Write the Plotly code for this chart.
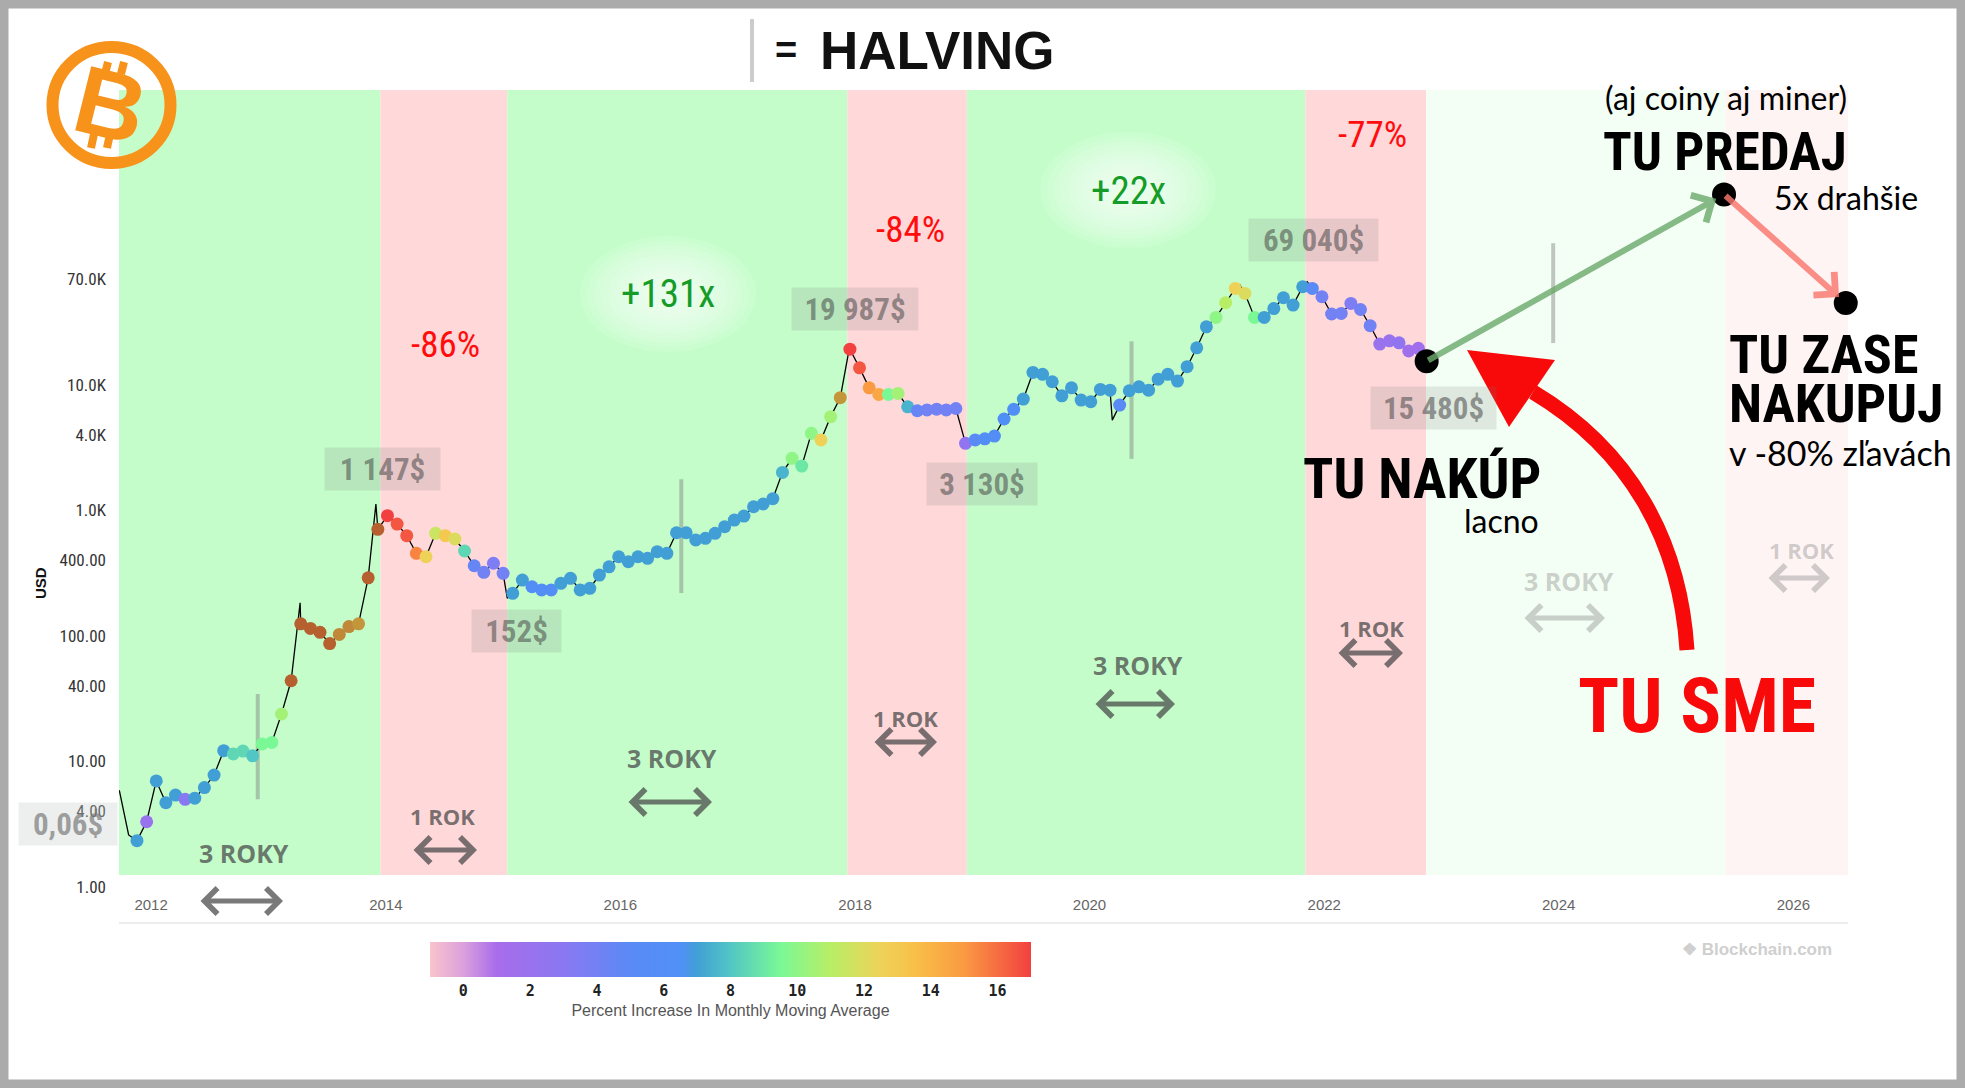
import pandas as pd
import plotly.graph_objects as go

# monthly-ish samples (every 30 days)
sample_start = "2011-11-18"
price = [
    2.34, 3.31, 7.0, 4.7, 5.4, 5.0, 5.1, 6.2, 7.8, 12.2,
    11.5, 12.1, 11.1, 13.8, 14.2, 23.9, 44, 125, 115, 107,
    87, 103, 119, 125, 291, 708, 910, 780, 630, 456,
    428, 658, 630, 593, 476, 363, 322, 380, 316, 219,
    279, 247, 233, 233, 263, 288, 233, 240, 306, 356,
    428, 391, 428, 416, 470, 456, 665, 665, 582, 600,
    658, 743, 839, 903, 1072, 1127, 1242, 2013, 2606, 2260,
    4120, 3650, 5600, 7925, 19300, 13700, 9500, 8420, 8420, 8570,
    6700, 6240, 6330, 6420, 6330, 6500, 3430, 3650, 3730, 3920,
    5360, 6400, 7730, 12600, 12160, 10620, 8200, 9500, 7590, 7360,
    9230, 9100, 6920, 9000, 9680, 9100, 11140, 12160, 10760, 14000,
    19800, 29100, 34600, 45300, 58900, 53700, 34600, 34600, 40700, 49600,
    43400, 60700, 58900, 50500, 36800, 37200, 44700, 40000, 29700, 21200,
    22500, 21700, 18700, 19600,
]
pct_increase = [
    7, 2, 7, 7, 7, 3, 7, 7, 7, 7,
    8.5, 8.5, 8, 9.5, 9.5, 10.5, 20, 20, 20, 20,
    20, 18.5, 18.5, 18, 20, 20, 17, 16.5, 16.5, 15.5,
    12.5, 11.5, 13, 12, 8.5, 4.5, 4, 3.5, 4, 7,
    7, 6, 6, 6, 7, 7, 7, 7, 7, 7,
    7, 7, 7, 7, 7, 7, 7, 7, 7, 7,
    7, 7, 7, 7, 7, 7, 7, 7.5, 10, 9,
    10, 12.5, 10.5, 18, 17, 16.5, 15, 14.5, 9.5, 10.5,
    7.5, 4.5, 4, 4, 4, 4, 2.5, 5, 6, 6,
    6.5, 6.5, 7, 7, 7, 7, 7, 7, 7, 7,
    7, 7, 5, 7, 7, 7, 7, 7, 7, 7,
    7, 7, 10, 11, 12.5, 12, 9.5, 7, 7, 7,
    7, 7, 5, 4, 4, 4, 3.5, 4, 4, 2,
    2, 2.5, 1.5, 1.5,
]

# extra daily extremes visible on the thin price line
spike_dates = ["2011-09-24", "2011-10-23", "2013-04-09", "2013-12-01", "2015-01-14",
               "2017-12-16", "2018-12-14", "2020-03-12", "2021-04-13", "2021-11-09"]
spike_price = [5.9, 2.6, 184, 1127, 200, 20800, 3310, 5250, 63000, 66500]

halving_dates = ["2012-11-28", "2016-07-09", "2020-05-11", "2023-12-15"]
halving_low = [5.0, 220, 2580, 21600]
halving_high = [34.5, 1775, 22300, 135000]

cycle_edges = ["2011-09-23", "2013-12-15", "2015-01-14", "2017-12-08", "2018-12-15",
               "2021-11-03", "2022-11-14", "2025-06-03", "2026-06-20"]
cycle_colors = ["#c4fdca", "#ffd8da", "#c4fdca", "#ffd8da", "#c4fdca", "#ffd8da",
                "#f3fff4", "#fff4f4"]

plan_dates = ["2022-11-16", "2025-05-30", "2026-06-13"]
plan_price = [15480, 330000, 45000]

ytick_vals = [1, 4, 10, 40, 100, 400, 1000, 4000, 10000, 70000]
ytick_text = ["1.00", "4.00", "10.00", "40.00", "100.00", "400.00", "1.0K", "4.0K", "10.0K", "70.0K"]

W, H = 1965, 1088
L, R, T, B = 119, 117, 90, 201
NARROW = "Liberation Sans Narrow, Roboto Condensed, DejaVu Sans Condensed, Arial Narrow, sans-serif"
ROUND = "Lato, Noto Sans, sans-serif"
ORANGE = "#f7931a"


def px(x):
    return (x - L) / (W - L - R)


def py(y):
    return (H - B - y) / (H - T - B)


dates = pd.date_range(sample_start, periods=len(price), freq="30D")
samples = pd.DataFrame({"date": dates, "price": price, "pct": pct_increase})
line = pd.concat([samples[["date", "price"]],
                  pd.DataFrame({"date": pd.to_datetime(spike_dates), "price": spike_price})])
line = line.sort_values("date")
in_scale = samples[samples.pct <= 17]
hot = samples[samples.pct > 17]

fig = go.Figure()

for d, lo, hi in zip(halving_dates, halving_low, halving_high):
    fig.add_trace(go.Scatter(x=[d, d], y=[lo, hi], mode="lines",
                             line=dict(color="rgba(128,128,128,0.45)", width=4),
                             hoverinfo="skip", showlegend=False))

fig.add_trace(go.Scatter(x=line.date, y=line.price, mode="lines",
                         line=dict(color="black", width=1.3), showlegend=False))

colorscale = [
    [0.0, "#fbc4cc"], [0.056, "#dba0dc"], [0.111, "#a86cea"], [0.222, "#8a78f2"],
    [0.333, "#5a8af6"], [0.417, "#5090f6"], [0.444, "#419fd6"], [0.5, "#52c6c4"],
    [0.583, "#7af896"], [0.667, "#b8ee66"], [0.75, "#eed258"], [0.806, "#f8c048"],
    [0.889, "#fa9a42"], [1.0, "#f24040"],
]
fig.add_trace(go.Scatter(
    x=in_scale.date, y=in_scale.price, mode="markers", showlegend=False,
    marker=dict(size=13, color=in_scale.pct, colorscale=colorscale, cmin=-1, cmax=17,
                showscale=True,
                colorbar=dict(orientation="h", x=px(730.5), xanchor="center",
                              y=py(942), yanchor="top", len=601 / (W - L - R),
                              thickness=35, outlinewidth=0, xpad=0, ypad=0,
                              tickvals=list(range(0, 17, 2)),
                              tickfont=dict(family="DejaVu Sans Mono", size=15, color="#222",
                                            weight="bold"),
                              title=dict(text="Percent Increase In Monthly Moving Average",
                                         side="bottom",
                                         font=dict(family="Liberation Sans", size=16, color="#555")))),
))
fig.add_trace(go.Scatter(
    x=hot.date, y=hot.price, mode="markers", showlegend=False,
    marker=dict(size=13, color=hot.pct, colorscale=[[0, "#c4963c"], [1, "#b5602e"]],
                cmin=18, cmax=20, showscale=False),
))

fig.add_trace(go.Scatter(x=plan_dates, y=plan_price, mode="markers", showlegend=False,
                         cliponaxis=False, marker=dict(size=24, color="black")))

shapes = []
for x0, x1, c in zip(cycle_edges[:-1], cycle_edges[1:], cycle_colors):
    shapes.append(dict(type="rect", xref="x", yref="paper", x0=x0, x1=x1, y0=py(875), y1=1,
                       fillcolor=c, line_width=0, layer="below"))

# soft white glow behind the growth labels
for cx, cy in [(668, 294), (1128, 190)]:
    for k in range(10):
        rx, ry = 88 - k * 7, 58 - k * 4.6
        shapes.append(dict(type="circle", xref="paper", yref="paper",
                           x0=px(cx - rx), x1=px(cx + rx), y0=py(cy + ry), y1=py(cy - ry),
                           fillcolor="rgba(255,255,255,0.11)", line_width=0, layer="below"))

# frame, axis rule, title bar
shapes.append(dict(type="rect", xref="paper", yref="paper", x0=px(4), x1=px(W - 4),
                   y0=py(H - 4), y1=py(4), line=dict(color="#ababab", width=9)))
shapes.append(dict(type="line", xref="paper", yref="paper", x0=px(119), x1=px(1848),
                   y0=py(923), y1=py(923), line=dict(color="#e6e6e6", width=1.5)))
shapes.append(dict(type="line", xref="paper", yref="paper", x0=px(752), x1=px(752),
                   y0=py(19), y1=py(82), line=dict(color="#cccccc", width=4)))

# bitcoin logo
shapes.append(dict(type="circle", xref="paper", yref="paper", x0=px(52.5), x1=px(170.5),
                   y0=py(163), y1=py(47), line=dict(color=ORANGE, width=12)))
for xb, yb, xt, yt in [(105, 74, 108, 62), (121, 74, 124, 62),
                       (91, 148, 94, 134), (107, 148, 110, 134)]:
    shapes.append(dict(type="line", xref="paper", yref="paper", x0=px(xb), x1=px(xt),
                       y0=py(yb), y1=py(yt), line=dict(color=ORANGE, width=8)))

# big red curved arrow
p = [(1687, 650), (1680, 540), (1630, 450), (1533, 392)]
path = "M {},{} C {},{} {},{} {},{}".format(*[v for x, y in p for v in (px(x), py(y))])
shapes.append(dict(type="path", xref="paper", yref="paper", path=path,
                   line=dict(color="#f80a0a", width=15)))
tri = [(1467, 350), (1555, 360), (1509, 427)]
path = "M {},{} L {},{} L {},{} Z".format(*[v for x, y in tri for v in (px(x), py(y))])
shapes.append(dict(type="path", xref="paper", yref="paper", path=path,
                   fillcolor="#f80a0a", line_width=0))

fig.update_layout(shapes=shapes)


def note(text, x, y, size, color="black", family=NARROW, bold=False, xanchor="center", **kw):
    fig.add_annotation(text=f"<b>{text}</b>" if bold else text, x=px(x), y=py(y),
                       xref="paper", yref="paper", showarrow=False, xanchor=xanchor,
                       yanchor="middle", font=dict(family=family, size=size, color=color), **kw)


def double_arrow(x0, x1, y, color):
    fig.add_annotation(text="", x=px(x1), y=py(y), xref="paper", yref="paper",
                       ax=x0 - x1, ay=0, showarrow=True, arrowside="end+start",
                       arrowhead=4, startarrowhead=4, arrowsize=1, startarrowsize=1,
                       arrowwidth=5, arrowcolor=color)


# cycle moves
for t, x, y in [("-86%", 445, 344), ("-84%", 910, 230), ("-77%", 1372, 135)]:
    note(t, x, y, 37, "#ff0d0d")
for t, x, y in [("+131x", 668, 294), ("+22x", 1128, 191)]:
    note(t, x, y, 39, "#159c28")

# price boxes
for t, x, y, w in [("1 147$", 382, 469, 113), ("152$", 516, 631, 87), ("19 987$", 855, 309, 124),
                   ("3 130$", 982, 484, 108), ("69 040$", 1313, 240, 127),
                   ("15 480$", 1433, 408, 123)]:
    note(t, x, y, 31, "rgba(70,70,70,0.55)", bold=True, width=w, height=40,
         bgcolor="rgba(120,120,120,0.17)", borderpad=1)
note("0,06$", 68, 824, 31, "rgba(120,120,120,0.7)", bold=True, width=96, height=40,
     bgcolor="rgba(200,210,205,0.35)", borderpad=1)

# cycle lengths
dark, faint = "rgba(70,70,70,0.72)", "rgba(150,150,150,0.45)"
for t, x, y, a0, a1, ay, c in [
    ("3 ROKY", 244, 853, 199, 283, 901, dark), ("1 ROK", 442, 816, 412, 477, 850, dark),
    ("3 ROKY", 672, 758, 627, 712, 802, dark), ("1 ROK", 905, 718, 873, 937, 742, dark),
    ("3 ROKY", 1138, 665, 1094, 1175, 704, dark), ("1 ROK", 1371, 628, 1337, 1403, 653, dark),
    ("3 ROKY", 1569, 581, 1523, 1605, 618, faint), ("1 ROK", 1801, 550, 1767, 1830, 578, faint),
]:
    note(t, x, y, 25 if "Y" in t else 22, c, family="Open Sans", bold=True)
    double_arrow(a0, a1, ay, c)

# plan arrows
fig.add_annotation(x=plan_dates[1], y=5.519, ax=plan_dates[0], ay=4.19,
                   xref="x", yref="y", axref="x", ayref="y", text="", showarrow=True,
                   arrowhead=4, arrowsize=1, arrowwidth=6, standoff=9,
                   arrowcolor="rgba(110,170,110,0.82)")
fig.add_annotation(x=plan_dates[2], y=4.653, ax=plan_dates[1], ay=5.519,
                   xref="x", yref="y", axref="x", ayref="y", text="", showarrow=True,
                   arrowhead=4, arrowsize=1, arrowwidth=6, standoff=9,
                   arrowcolor="rgba(250,120,110,0.82)")

# texts on the right
note("(aj coiny aj miner)", 1726, 97, 32, family=ROUND)
note("TU PREDAJ", 1725, 152, 53, bold=True)
note("5x drahšie", 1772, 197, 32, family=ROUND, xanchor="left")
note("TU ZASE", 1727, 354, 54, bold=True, xanchor="left")
note("NAKUPUJ", 1727, 404, 54, bold=True, xanchor="left")
note("v -80% zľavách", 1727, 453, 34, family=ROUND, xanchor="left")
note("TU NAKÚP", 1422, 479, 56, bold=True)
note("lacno", 1541, 520, 32, family=ROUND, xanchor="right")
note("TU SME", 1697, 706, 76, "#f80a0a", bold=True)

# header, logo, axis title, watermark
note("=", 786, 50, 38, "#111", family="Liberation Sans", bold=True)
note("HALVING", 937, 51, 53, "#111", family="Liberation Sans", bold=True)
note("B", 110, 105, 96, ORANGE, family="Liberation Sans", bold=True, textangle=14)
note("USD", 40, 583, 15, "#111", family="Liberation Sans", bold=True, textangle=-90)
note("❖ Blockchain.com", 1757, 949, 17, "#cfcfcf", family="Liberation Sans", bold=True)

fig.update_xaxes(type="date", range=[cycle_edges[0], cycle_edges[-1]], dtick="M24",
                 tick0="2012-01-01", tickformat="%Y", showgrid=False, zeroline=False,
                 showline=False, ticks="", ticklabelstandoff=7,
                 tickfont=dict(family="Liberation Sans", size=15, color="#666"))
fig.update_yaxes(type="log", range=[0, 6.351], tickvals=ytick_vals, ticktext=ytick_text,
                 showgrid=False, zeroline=False, showline=False, ticks="",
                 ticklabelstandoff=12,
                 tickfont=dict(family=NARROW, size=17, color="#333"))
fig.update_layout(width=W, height=H, margin=dict(l=L, r=R, t=T, b=B),
                  paper_bgcolor="white", plot_bgcolor="white", showlegend=False)

fig.write_html("out.html", config={"displayModeBar": False},
               post_script="document.body.style.margin='0';")
